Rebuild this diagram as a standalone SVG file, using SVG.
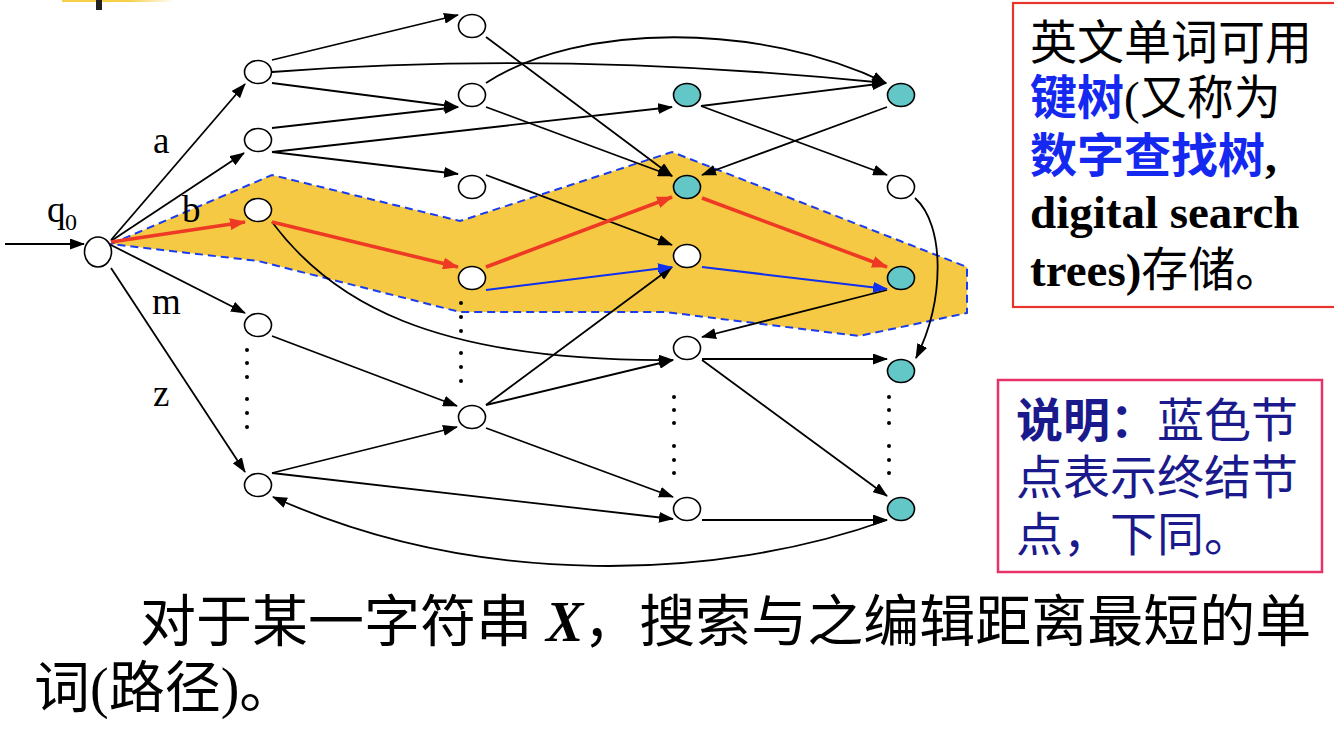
<svg xmlns="http://www.w3.org/2000/svg" width="1334" height="730" viewBox="0 0 1334 730">
<defs>
<marker id="ab" markerUnits="userSpaceOnUse" markerWidth="15" markerHeight="11" refX="14" refY="5.5" orient="auto"><path d="M0,0 L15,5.5 L0,11 z" fill="#000"/></marker>
<marker id="ar" markerUnits="userSpaceOnUse" markerWidth="16" markerHeight="12" refX="15" refY="6" orient="auto"><path d="M0,0 L16,6 L0,12 z" fill="#EE3A24"/></marker>
<marker id="abl" markerUnits="userSpaceOnUse" markerWidth="15" markerHeight="11" refX="14" refY="5.5" orient="auto"><path d="M0,0 L15,5.5 L0,11 z" fill="#1030F0"/></marker>
<linearGradient id="yg" x1="0" x2="1" y1="0" y2="0"><stop offset="0" stop-color="#F7D04A"/><stop offset="0.6" stop-color="#F7D04A"/><stop offset="1" stop-color="#F7D04A" stop-opacity="0"/></linearGradient>
</defs>
<style>
.e{fill:none;stroke:#000;stroke-width:1.8;marker-end:url(#ab)}
.r{fill:none;stroke:#EE3A24;stroke-width:3.6;marker-end:url(#ar)}
.b{fill:none;stroke:#1030F0;stroke-width:2;marker-end:url(#abl)}
.n{fill:#fff;stroke:#000;stroke-width:1.6}
.t{fill:#63C7C7;stroke:#000;stroke-width:1.6}
.lbl{font-family:"Liberation Serif",serif;font-size:37px;fill:#000}
.d{fill:#000}
.cj{font-family:"Liberation Serif","Noto Sans CJK SC",serif;font-size:47px;fill:#000}
</style>
<rect width="1334" height="730" fill="#fff"/>
<rect x="62" y="0" width="112" height="2" fill="url(#yg)"/>
<rect x="96" y="0" width="6" height="10" fill="#222"/>

<polygon id="highlight" points="111,244 272,175 460,221 672,152 967,267 967,313 859,336 665,312 460,312 258,261" fill="#F6C944" stroke="#1A3CF0" stroke-width="2" stroke-dasharray="8,5"/>

<g id="dots" class="d">
<circle cx="247" cy="350" r="2"/><circle cx="247" cy="363" r="2"/><circle cx="247" cy="377" r="2"/><circle cx="247" cy="399" r="2"/><circle cx="247" cy="413" r="2"/><circle cx="247" cy="427" r="2"/>
<circle cx="461" cy="303" r="2"/><circle cx="461" cy="317" r="2"/><circle cx="461" cy="331" r="2"/><circle cx="461" cy="353" r="2"/><circle cx="461" cy="367" r="2"/><circle cx="461" cy="381" r="2"/>
<circle cx="674" cy="397" r="2"/><circle cx="674" cy="410" r="2"/><circle cx="674" cy="423" r="2"/><circle cx="674" cy="446" r="2"/><circle cx="674" cy="460" r="2"/><circle cx="674" cy="473" r="2"/>
<circle cx="889" cy="397" r="2"/><circle cx="889" cy="410" r="2"/><circle cx="889" cy="423" r="2"/><circle cx="889" cy="446" r="2"/><circle cx="889" cy="460" r="2"/><circle cx="889" cy="473" r="2"/>
</g>

<g id="connectors">
<path class="e" d="M5,244 L84,244"/>
<path class="e" d="M111,240 L245,84"/>
<path class="e" d="M111,241 L244,153"/>
<path class="e" d="M111,245 L245,313"/>
<path class="e" d="M111,268 L245,472"/>
<path class="e" d="M272,60 L458,15"/>
<path class="e" d="M272,72 Q560,50 886,83"/>
<path class="e" d="M272,83 L458,107"/>
<path class="e" d="M272,128 L458,107"/>
<path class="e" d="M272,152 L672,107"/>
<path class="e" d="M272,152 L458,174"/>
<path class="e" d="M272,222 C330,300 430,362 673,360"/>
<path class="e" d="M272,336 L457,406"/>
<path class="e" d="M272,473 L457,427"/>
<path class="e" d="M272,473 L673,519"/>
<path class="e" d="M887,520 C720,580 480,590 273,497"/>
<path class="e" d="M486,37 L672,176"/>
<path class="e" d="M486,83 C580,22 760,22 886,83"/>
<path class="e" d="M486,107 L672,176"/>
<path class="e" d="M486,175 L672,245"/>
<path class="e" d="M486,405 L672,267"/>
<path class="e" d="M486,405 L673,360"/>
<path class="e" d="M486,428 L673,497"/>
<path class="e" d="M701,106 L886,83"/>
<path class="e" d="M701,106 L887,175"/>
<path class="e" d="M887,107 L702,175"/>
<path class="e" d="M887,290 L702,337"/>
<path class="e" d="M915,198 C945,225 945,300 916,358"/>
<path class="e" d="M702,359 L887,359"/>
<path class="e" d="M702,360 L887,496"/>
<path class="e" d="M702,520 L887,520"/>
<path class="r" d="M111,242 L245,222"/>
<path class="r" d="M272,222 L458,267"/>
<path class="r" d="M486,267 L672,197"/>
<path class="r" d="M702,198 L887,267"/>
<path class="b" d="M486,290 L672,267"/>
<path class="b" d="M702,267 L887,289"/>
</g>

<g id="q0"><ellipse class="n" cx="98" cy="252" rx="13.5" ry="15"/></g>
<g id="a1"><ellipse class="n" cx="258" cy="72" rx="13.5" ry="11.5"/></g>
<g id="a2"><ellipse class="n" cx="258" cy="140" rx="13.5" ry="11.5"/></g>
<g id="a3"><ellipse class="n" cx="258" cy="210" rx="13.5" ry="11.5"/></g>
<g id="a4"><ellipse class="n" cx="258" cy="325" rx="13.5" ry="11.5"/></g>
<g id="a5"><ellipse class="n" cx="258" cy="485" rx="13.5" ry="11.5"/></g>
<g id="b1"><ellipse class="n" cx="472" cy="26" rx="13.5" ry="11.5"/></g>
<g id="b2"><ellipse class="n" cx="472" cy="95" rx="13.5" ry="11.5"/></g>
<g id="b3"><ellipse class="n" cx="472" cy="187" rx="13.5" ry="11.5"/></g>
<g id="b4"><ellipse class="n" cx="472" cy="278" rx="13.5" ry="11.5"/></g>
<g id="b5"><ellipse class="n" cx="472" cy="417" rx="13.5" ry="11.5"/></g>
<g id="c1"><ellipse class="t" cx="687" cy="95" rx="13.5" ry="11.5"/></g>
<g id="c2"><ellipse class="t" cx="687" cy="187" rx="13.5" ry="11.5"/></g>
<g id="c3"><ellipse class="n" cx="687" cy="256" rx="13.5" ry="11.5"/></g>
<g id="c4"><ellipse class="n" cx="687" cy="348" rx="13.5" ry="11.5"/></g>
<g id="c5"><ellipse class="n" cx="687" cy="509" rx="13.5" ry="11.5"/></g>
<g id="d1"><ellipse class="t" cx="901" cy="95" rx="13.5" ry="11.5"/></g>
<g id="d2"><ellipse class="n" cx="901" cy="187" rx="13.5" ry="11.5"/></g>
<g id="d3"><ellipse class="t" cx="901" cy="278" rx="13.5" ry="11.5"/></g>
<g id="d4"><ellipse class="t" cx="901" cy="371" rx="13.5" ry="11.5"/></g>
<g id="d5"><ellipse class="t" cx="901" cy="509" rx="13.5" ry="11.5"/></g>

<g id="labels" class="lbl">
<text x="47" y="222">q<tspan x="65" y="230" font-size="24">0</tspan></text>
<text x="153" y="153">a</text>
<text x="182" y="222">b</text>
<text x="152" y="314">m</text>
<text x="153" y="406">z</text>
</g>

<g id="note1">
<rect x="1013" y="3" width="330" height="304" fill="none" stroke="#E8322A" stroke-width="2.2"/>
<text class="cj" x="1030" y="59">英文单词可用</text>
<text class="cj" x="1030" y="114"><tspan fill="#1428F0" font-weight="bold">键树</tspan>(又称为</text>
<text class="cj" x="1030" y="172"><tspan fill="#1428F0" font-weight="bold">数字查找树</tspan><tspan font-weight="bold">,</tspan></text>
<text class="cj" x="1030" y="228" font-weight="bold">digital search</text>
<text class="cj" x="1030" y="286"><tspan font-weight="bold">trees)</tspan>存储。</text>
</g>

<g id="note2">
<rect x="998" y="380" width="324" height="192" fill="none" stroke="#E8336A" stroke-width="2.5"/>
<text class="cj" x="1016" y="437" fill="#1A1A8C" style="fill:#1A1A8C"><tspan font-weight="bold">说明：</tspan>蓝色节</text>
<text class="cj" x="1016" y="494" style="fill:#1A1A8C">点表示终结节</text>
<text class="cj" x="1016" y="551" style="fill:#1A1A8C">点，下同。</text>
</g>

<g id="caption" font-family="'Liberation Serif','Noto Sans CJK SC',serif" font-size="56" fill="#000">
<text x="140" y="641">对于某一字符串 <tspan font-style="italic" font-weight="bold">X</tspan>，搜索与之编辑距离最短的单</text>
<text x="34" y="707">词(路径)。</text>
</g>
</svg>
